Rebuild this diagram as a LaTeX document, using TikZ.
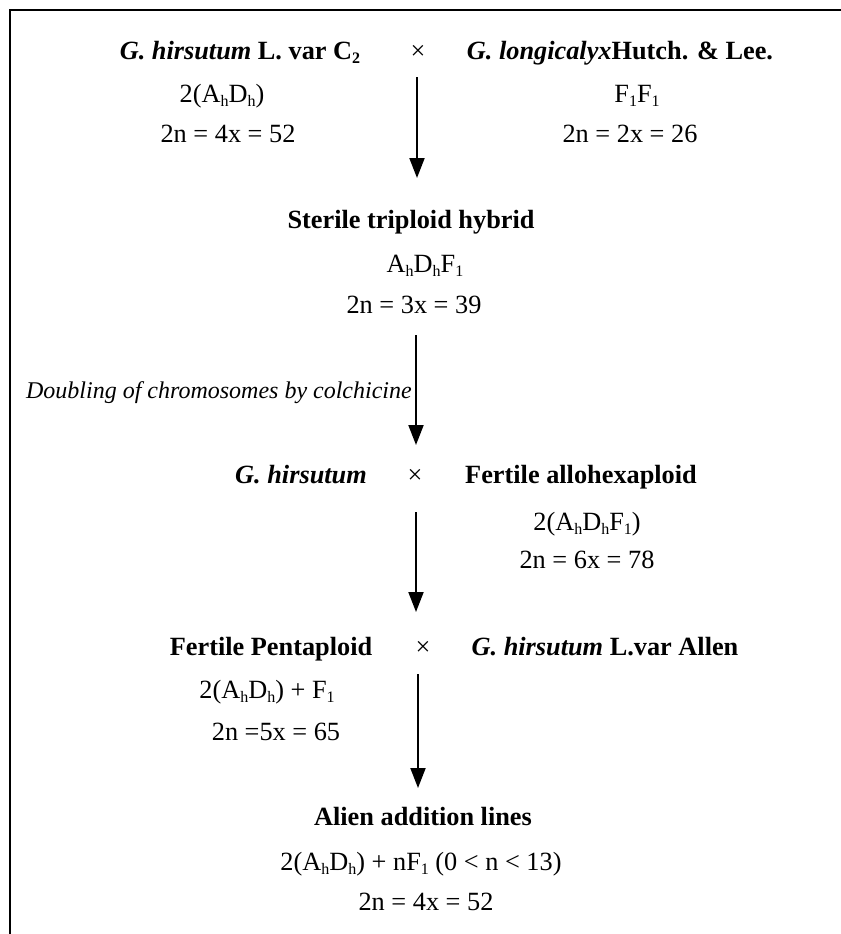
\documentclass[tikz,border=0pt]{standalone}
\usepackage{fontspec}
\setmainfont{Liberation Serif}
\usetikzlibrary{arrows.meta}
\newcommand\sbs[1]{\raisebox{-4bp}{\fontsize{16bp}{16bp}\selectfont #1}}
\tikzset{
  txt/.style={anchor=base,inner sep=0pt,font=\fontsize{26.3bp}{30bp}\selectfont},
  lab/.style={anchor=base east,inner sep=0pt,font=\fontsize{24bp}{28bp}\selectfont\itshape},
  flow/.style={line width=2bp,-{Triangle[width=15bp,length=20bp]}},
  frame/.style={line width=2.2bp}
}
\begin{document}
\begin{tikzpicture}[x=1bp,y=-1bp]
\useasboundingbox (0,0) rectangle (841,934);
\draw[frame] (10,934) -- (10,10) -- (841,10);
% row 1
\node[txt] (p1) at (240,59) {\textbf{\textit{G. hirsutum} L. var C\sbs{2}}};
\node[txt] (x1) at (418,59) {×};
\node[txt] (p2) at (620,59) {\textbf{\textit{G. longicalyx}Hutch. \& Lee.}};
\node[txt] (p1g) at (222,102) {2(A\sbs{h}D\sbs{h})};
\node[txt] (p2g) at (637,102) {F\sbs{1}F\sbs{1}};
\node[txt] (p1c) at (228,142) {2n = 4x = 52};
\node[txt] (p2c) at (630,142) {2n = 2x = 26};
% sterile hybrid
\node[txt] (h1) at (411,228) {\textbf{Sterile triploid hybrid}};
\node[txt] (h1g) at (425,272) {A\sbs{h}D\sbs{h}F\sbs{1}};
\node[txt] (h1c) at (414,313) {2n = 3x = 39};
% row 3
\node[txt] (g1) at (301,483) {\textbf{\textit{G. hirsutum}}};
\node[txt] (x2) at (415,483) {×};
\node[txt] (fa) at (581,483) {\textbf{Fertile allohexaploid}};
\node[txt] (fag) at (587,530) {2(A\sbs{h}D\sbs{h}F\sbs{1})};
\node[txt] (fac) at (587,568) {2n = 6x = 78};
% row 4
\node[txt] (fp) at (271,655) {\textbf{Fertile Pentaploid}};
\node[txt] (x3) at (423,655) {×};
\node[txt] (ga) at (605,655) {\textbf{\textit{G. hirsutum} L.var Allen}};
\node[txt] (fpg) at (267,698) {2(A\sbs{h}D\sbs{h}) + F\sbs{1}};
\node[txt] (fpc) at (276,740) {2n =5x = 65};
% result
\node[txt] (al) at (423,825) {\textbf{Alien addition lines}};
\node[txt] (alg) at (421,870) {2(A\sbs{h}D\sbs{h}) + nF\sbs{1} (0 < n < 13)};
\node[txt] (alc) at (426,910) {2n = 4x = 52};
% arrows
\coordinate (a1s) at (417,77);  \coordinate (a1e) at (417,178);
\coordinate (a2s) at (416,335); \coordinate (a2e) at (416,445);
\coordinate (a3s) at (416,512); \coordinate (a3e) at (416,612);
\coordinate (a4s) at (418,674); \coordinate (a4e) at (418,788);
\draw[flow] (a1s) -- (a1e);
\draw[flow] (a2s) -- (a2e);
\draw[flow] (a3s) -- (a3e);
\draw[flow] (a4s) -- (a4e);
\node[lab] (dl) at (412,398) {Doubling of chromosomes by colchicine};
\end{tikzpicture}
\end{document}
